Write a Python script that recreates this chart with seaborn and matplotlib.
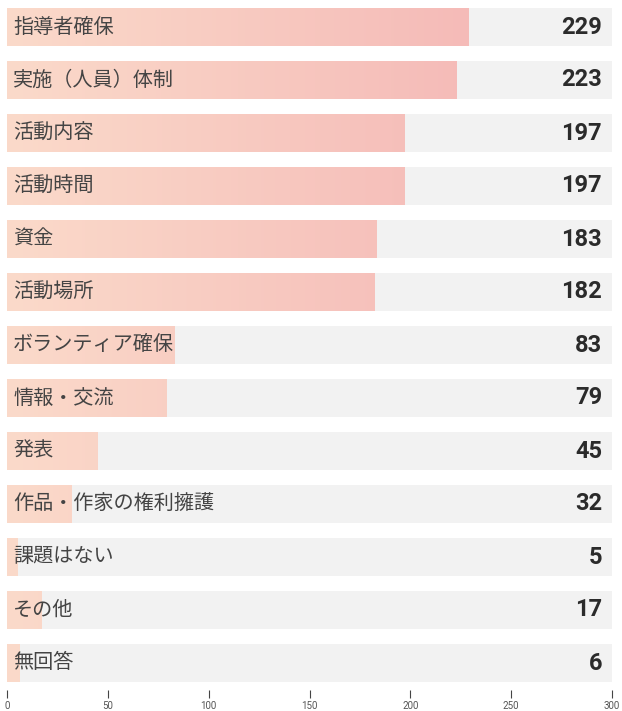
import numpy as np
import pandas as pd
import matplotlib
matplotlib.use("Agg")
import matplotlib.pyplot as plt
from matplotlib.colors import LinearSegmentedColormap
import seaborn as sns

# Chart data
categories = ["指導者確保", "実施（人員）体制", "活動内容", "活動時間", "資金", "活動場所",
              "ボランティア確保", "情報・交流", "発表", "作品・作家の権利擁護",
              "課題はない", "その他", "無回答"]
values = [229, 223, 197, 197, 183, 182, 83, 79, 45, 32, 5, 17, 6]
x_ticks = [0, 50, 100, 150, 200, 250, 300]
x_max = 300

df = pd.DataFrame({"category": categories, "value": values})
df["full"] = x_max

sns.set_theme(style="white")
plt.rcParams["font.family"] = ["Noto Sans CJK JP", "DejaVu Sans"]

fig = plt.figure(figsize=(6.22, 7.11), dpi=100)
ax = fig.add_axes([7 / 622, 1 - 689.5 / 711, 605 / 622, 689 / 711])

bar_w = 38 / 53

# gray background track
sns.barplot(data=df, x="full", y="category", orient="h", color="#f2f2f2",
            width=bar_w, ax=ax, saturation=1, linewidth=0)
n_bg = len(ax.patches)

# actual value bars (drawn invisible, used as clip paths for gradient)
sns.barplot(data=df, x="value", y="category", orient="h", color="#f8c8bd",
            width=bar_w, ax=ax, saturation=1, linewidth=0)

grad = LinearSegmentedColormap.from_list("peach_pink", ["#fbdaca", "#f5bbb8"])
gradient = np.linspace(0, 1, 256).reshape(1, -1)
for p in ax.patches[n_bg:]:
    p.set_facecolor("none")
    y0 = p.get_y()
    h = p.get_height()
    im = ax.imshow(gradient, cmap=grad, aspect="auto",
                   extent=[0, max(values), y0 + h, y0], zorder=2,
                   interpolation="bicubic")
    im.set_clip_path(p)

for i, (cat, val) in enumerate(zip(categories, values)):
    ax.text(3, i, cat, ha="left", va="center", fontsize=14.5,
            color="#444444", zorder=3)
    ax.text(295, i, str(val), ha="right", va="center", fontsize=17,
            fontweight="bold", color="#2b2b2b", zorder=3,
            family=["Roboto", "DejaVu Sans"])

ax.set_xlim(0, x_max)
ax.set_ylim(len(categories) - 0.5, -0.5)
ax.set_xticks(x_ticks)
ax.set_xticklabels([str(t) for t in x_ticks], fontsize=7, color="#555555",
                   family=["Roboto", "DejaVu Sans"])
ax.set_yticks([])
ax.set_xlabel("")
ax.set_ylabel("")
ax.tick_params(axis="x", bottom=True, length=6, width=0.8, color="#444444",
               pad=2)
for s in ax.spines.values():
    s.set_visible(False)

fig.savefig("out.png", dpi=100)
